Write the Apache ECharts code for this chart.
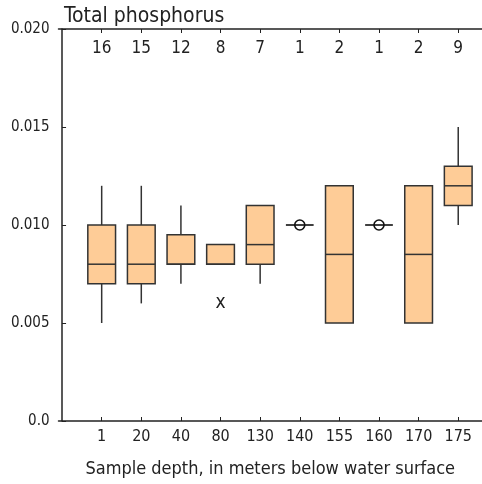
<!DOCTYPE html>
<html>
<head>
<meta charset="utf-8">
<script src="https://cdn.jsdelivr.net/npm/echarts@6/dist/echarts.min.js"></script>
<style>
html,body{margin:0;padding:0;background:#fff;}
#c{width:482px;height:484px;}
</style>
</head>
<body>
<div id="c"></div>
<script>
const depths = ['1','20','40','80','130','140','155','160','170','175'];
const counts = ['16','15','12','8','7','1','2','1','2','9'];
const lowWhisker  = [0.005, 0.006, 0.007, 0.008, 0.007, null, 0.005, null, 0.005, 0.010];
const q1          = [0.007, 0.007, 0.008, 0.008, 0.008, null, 0.005, null, 0.005, 0.011];
const median      = [0.008, 0.008, 0.008, 0.008, 0.009, 0.010, 0.0085, 0.010, 0.0085, 0.012];
const q3          = [0.010, 0.010, 0.0095, 0.009, 0.011, null, 0.012, null, 0.012, 0.013];
const highWhisker = [0.012, 0.012, 0.011, 0.009, 0.011, null, 0.012, null, 0.012, 0.015];
const outliers = [[4, 0.006]];
const yTicks = [0, 0.005, 0.010, 0.015, 0.020];

const FONT = '"Liberation Sans Narrow", "DejaVu Sans Condensed", "Roboto", sans-serif';
const positions = depths.map((d, i) => i + 1);
const boxData = depths.map((d, i) => [i + 1, lowWhisker[i], q1[i], median[i], q3[i], highWhisker[i]]);

const chart = echarts.init(document.getElementById('c'), null, {renderer: 'canvas'});
const axisCommon = {
  type: 'value', min: -0.09, max: 10.6,
  splitLine: {show: false},
  axisLine: {show: true, onZero: false, lineStyle: {color: '#222', width: 1.5}},
  axisTick: {show: true, inside: true, length: 4, customValues: positions, lineStyle: {color: '#222', width: 1}},
};
chart.setOption({
  animation: false,
  backgroundColor: '#fff',
  title: {
    text: 'Total phosphorus', left: 59, top: 1,
    textStyle: {fontFamily: FONT, fontSize: 21, fontWeight: 'normal', color: '#222'}
  },
  grid: {left: 58.5, right: 0, top: 29, bottom: 63, containLabel: false, outerBoundsMode: 'none'},
  xAxis: [
    Object.assign({}, axisCommon, {
      position: 'bottom',
      name: 'Sample depth, in meters below water surface',
      nameLocation: 'middle', nameGap: 39,
      nameTextStyle: {fontFamily: FONT, fontSize: 18, color: '#222'},
      axisLabel: {customValues: positions, margin: 8, fontFamily: FONT, fontSize: 16, color: '#222',
        formatter: v => depths[Math.round(v) - 1] || ''}
    }),
    Object.assign({}, axisCommon, {
      position: 'top',
      axisLabel: {inside: true, customValues: positions, margin: 11, fontFamily: FONT, fontSize: 17, color: '#222',
        formatter: v => counts[Math.round(v) - 1] || ''}
    })
  ],
  yAxis: {
    type: 'value', min: 0, max: 0.020, interval: 0.005,
    splitLine: {show: false},
    axisLine: {show: true, lineStyle: {color: '#222', width: 1.5}},
    axisTick: {show: true, inside: true, length: 4, lineStyle: {color: '#222'}},
    axisLabel: {margin: 9, fontFamily: FONT, fontSize: 15, color: '#222',
      formatter: v => v === 0 ? '0.0' : v.toFixed(3)}
  },
  series: [
    {
      type: 'custom',
      xAxisIndex: 0,
      data: boxData,
      renderItem: function (params, api) {
        const x = api.value(0);
        const lo = api.value(1), a = api.value(2), m = api.value(3), b = api.value(4), hi = api.value(5);
        const w = api.size([0.7, 0])[0];
        const stroke = {stroke: '#333', lineWidth: 1.5};
        const children = [];
        if (isNaN(a) || a === null) {
          const p = api.coord([x, m]);
          children.push({type: 'line', shape: {x1: p[0] - w / 2, y1: p[1], x2: p[0] + w / 2, y2: p[1]}, style: {stroke: '#111', lineWidth: 1.6}});
          children.push({type: 'circle', shape: {cx: p[0], cy: p[1], r: 5}, style: {fill: 'none', stroke: '#111', lineWidth: 1.6}});
          return {type: 'group', children};
        }
        const pLo = api.coord([x, lo]), pA = api.coord([x, a]), pM = api.coord([x, m]), pB = api.coord([x, b]), pHi = api.coord([x, hi]);
        if (pHi[1] < pB[1]) children.push({type: 'line', shape: {x1: pB[0], y1: pB[1], x2: pHi[0], y2: pHi[1]}, style: stroke});
        if (pLo[1] > pA[1]) children.push({type: 'line', shape: {x1: pA[0], y1: pA[1], x2: pLo[0], y2: pLo[1]}, style: stroke});
        children.push({type: 'rect', shape: {x: pB[0] - w / 2, y: pB[1], width: w, height: pA[1] - pB[1]},
          style: {fill: '#FECC97', stroke: '#333', lineWidth: 1.5}});
        children.push({type: 'line', shape: {x1: pM[0] - w / 2, y1: pM[1], x2: pM[0] + w / 2, y2: pM[1]}, style: stroke});
        return {type: 'group', children};
      }
    },
    {
      type: 'custom',
      xAxisIndex: 0,
      data: outliers,
      renderItem: function (params, api) {
        const p = api.coord([api.value(0), api.value(1)]);
        return {type: 'text', x: p[0], y: p[1],
          style: {text: 'x', fontFamily: FONT, fontSize: 19, fill: '#222', align: 'center', verticalAlign: 'middle'}};
      }
    }
  ]
});
</script>
</body>
</html>
